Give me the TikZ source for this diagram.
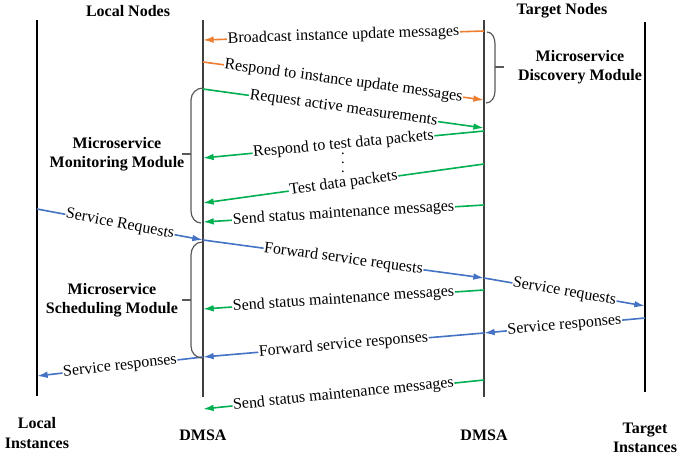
\documentclass[tikz,border=0pt]{standalone}
\usepackage{fontspec}
\setmainfont{Liberation Serif}
\usepackage{xcolor}
\usetikzlibrary{arrows.meta,calc}

\definecolor{msgorange}{RGB}{237,125,49}
\definecolor{msggreen}{RGB}{0,176,80}
\definecolor{msgblue}{RGB}{68,114,196}

\begin{document}
\begin{tikzpicture}[x=0.75pt,y=-0.75pt,
    lifeline/.style={line width=1pt},
    msg/.style={line width=1.2pt,-{Latex[length=8pt,width=5pt]}},
    lbl/.style={midway,sloped,fill=white,text=black,inner sep=0.5pt,font=\fontsize{12}{14}\selectfont},
    title/.style={font=\bfseries\fontsize{12}{14.3}\selectfont,align=center},
    bracket/.style={draw=black!65,line width=0.9pt}]
    \useasboundingbox (0,0) rectangle (679,457);

    % Lifelines
    \coordinate (li) at (37,0);
    \coordinate (dl) at (203,0);
    \coordinate (dr) at (484,0);
    \coordinate (ti) at (645,0);
    \draw[lifeline] ($(li)+(0,20)$) -- ($(li)+(0,396)$);
    \draw[lifeline,black!75] ($(dl)+(0,20)$) -- ($(dl)+(0,397)$);
    \draw[lifeline,black!75,line width=1.4pt] ($(dr)+(0,20)$) -- ($(dr)+(0,397)$);
    \draw[lifeline] ($(ti)+(0,22)$) -- ($(ti)+(0,392)$);

    % Headers and footers
    \node[title] (localnodes) at (128,11) {Local Nodes};
    \node[title] (targetnodes) at (562,11) {Target Nodes};
    \node[title] (localinst) at (37,433) {Local\\Instances};
    \node[title] (dmsal) at (203,435) {DMSA};
    \node[title] (dmsar) at (484,435) {DMSA};
    \node[title] (targetinst) at (645,438) {Target\\Instances};

    % Discovery
    \draw[msg,msgorange] ($(dr)+(0,31)$) -- node[lbl]{Broadcast instance update messages} ($(dl)+(0,40)$);
    \draw[msg,msgorange] ($(dl)+(0,62)$) -- node[lbl]{Respond to instance update messages} ($(dr)+(0,100)$);

    % Monitoring
    \draw[msg,msggreen] ($(dl)+(0,89)$) -- node[lbl]{Request active measurements} ($(dr)+(0,128)$);
    \draw[msg,msggreen] ($(dr)+(0,131)$) -- node[lbl]{Respond to test data packets} ($(dl)+(0,158)$);
    \node[align=center,inner sep=0pt,font=\fontsize{11}{6.7}\selectfont] (dots) at (343,163) {.\\.\\.};
    \draw[msg,msggreen] ($(dr)+(0,164)$) -- node[lbl]{Test data packets} ($(dl)+(0,203)$);
    \draw[msg,msggreen] ($(dr)+(0,205)$) -- node[lbl]{Send status maintenance messages} ($(dl)+(0,222)$);

    % Scheduling
    \draw[msg,msgblue] ($(li)+(0,209)$) -- node[lbl]{Service Requests} ($(dl)+(0,240)$);
    \draw[msg,msgblue] ($(dl)+(0,240)$) -- node[lbl]{Forward service requests} ($(dr)+(0,278)$);
    \draw[msg,msgblue] ($(dr)+(0,278)$) -- node[lbl]{Service requests} ($(ti)+(0,306)$);
    \draw[msg,msggreen] ($(dr)+(0,290)$) -- node[lbl]{Send status maintenance messages} ($(dl)+(0,309)$);
    \draw[msg,msgblue] ($(ti)+(0,318)$) -- node[lbl]{Service responses} ($(dr)+(0,333)$);
    \draw[msg,msgblue] ($(dr)+(0,333)$) -- node[lbl]{Forward service responses} ($(dl)+(0,357)$);
    \draw[msg,msgblue] ($(dl)+(0,357)$) -- node[lbl]{Service responses} ($(li)+(0,376)$);
    \draw[msg,msggreen] ($(dr)+(0,380)$) -- node[lbl]{Send status maintenance messages} ($(dl)+(0,409)$);

    % Module brackets
    \draw[bracket] ($(dr)+(3,32)$) to[out=0,in=90] (495,44) -- (495,91) to[out=-90,in=0] ($(dr)+(2,103)$);
    \draw[bracket] (495,67) -- (504,67);
    \node[title] (discovery) at (580,67.5) {Microservice\\Discovery Module};

    \draw[bracket] ($(dl)+(0,88)$) to[out=180,in=90] (191,100) -- (191,211) to[out=-90,in=180] ($(dl)+(-2,223)$);
    \draw[bracket] (191,154) -- (182,154);
    \node[title] (monitoring) at (117,154.5) {Microservice\\Monitoring Module};

    \draw[bracket] ($(dl)+(-1,242)$) to[out=180,in=90] (191,255) -- (191,346) to[out=-90,in=180] ($(dl)+(-1,358)$);
    \draw[bracket] (191,300) -- (182,300);
    \node[title] (scheduling) at (112,300) {Microservice\\Scheduling Module};

\end{tikzpicture}
\end{document}
